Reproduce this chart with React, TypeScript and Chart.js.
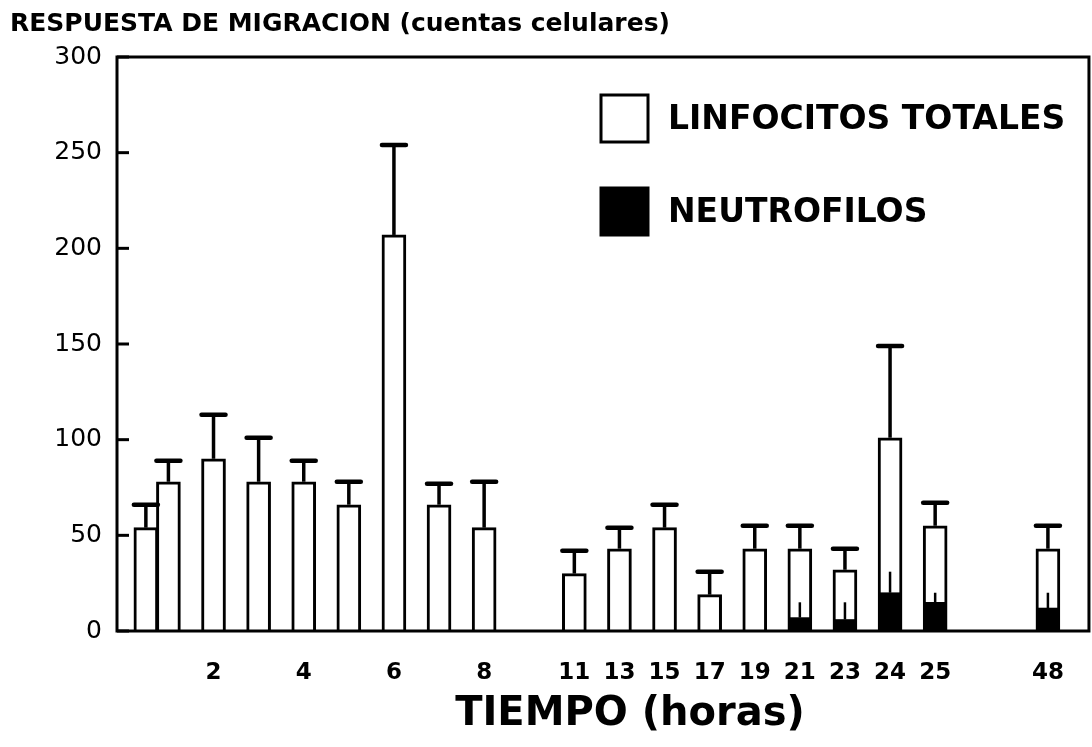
import { useEffect, useRef } from "react";
import { Chart, registerables } from "chart.js";

Chart.register(...registerables);

// Half-slot layout of the broken time axis (blank = empty slot)
const axisSlots = [
  "0.5", "1", "", "2", "", "3", "", "4", "", "5", "", "6", "", "7", "", "8",
  "", "", "", "11", "", "13", "", "15", "", "17", "", "19", "", "21", "", "23",
  "", "24", "", "25", "", "", "", "", "48",
];
const tickLabels = ["2", "4", "6", "8", "11", "13", "15", "17", "19", "21", "23", "24", "25", "48"];

const times = ["0.5", "1", "2", "3", "4", "5", "6", "7", "8", "11", "13", "15", "17", "19", "21", "23", "24", "25", "48"];
const lymphocytes = [54, 78, 90, 78, 78, 66, 207, 66, 54, 30, 43, 54, 19, 43, 43, 32, 101, 55, 43];
const lymphocytesUpper = [66, 89, 113, 101, 89, 78, 254, 77, 78, 42, 54, 66, 31, 55, 55, 43, 149, 67, 55];
const neutrophils = [0, 0, 0, 0, 0, 0, 0, 0, 0, 0, 0, 0, 0, 0, 7, 6, 20, 15, 12];
const neutrophilsUpper = [0, 0, 0, 0, 0, 0, 0, 0, 0, 0, 0, 0, 0, 0, 15, 15, 31, 20, 20];

const FONT = "'DejaVu Sans', sans-serif";

const decor = {
  id: "decor",
  afterDatasetsDraw(chart: any) {
    const { ctx, chartArea: a, scales } = chart;
    const y = scales.y;
    ctx.save();
    ctx.strokeStyle = "#000";
    // error bars
    chart.data.datasets.forEach((ds: any, i: number) => {
      const meta = chart.getDatasetMeta(i);
      meta.data.forEach((bar: any, j: number) => {
        const v = ds.data[j].y;
        if (v == null) return;
        const yTop = y.getPixelForValue(v);
        const yUp = y.getPixelForValue(ds.upper[j]);
        ctx.lineCap = "butt";
        ctx.lineWidth = ds.stemWidth;
        ctx.beginPath();
        ctx.moveTo(bar.x, yTop);
        ctx.lineTo(bar.x, yUp);
        ctx.stroke();
        if (ds.capWidth) {
          ctx.lineWidth = 4.5;
          ctx.lineCap = "round";
          ctx.beginPath();
          ctx.moveTo(bar.x - ds.capWidth / 2, yUp);
          ctx.lineTo(bar.x + ds.capWidth / 2, yUp);
          ctx.stroke();
        }
      });
    });
    // frame
    ctx.lineCap = "butt";
    ctx.lineWidth = 3;
    ctx.strokeRect(a.left, a.top, a.right - a.left, a.bottom - a.top);
    // inward y tick marks
    y.ticks.forEach((t: any) => {
      const py = y.getPixelForValue(t.value);
      ctx.beginPath();
      ctx.moveTo(a.left, py);
      ctx.lineTo(a.left + 12, py);
      ctx.stroke();
    });
    ctx.restore();
  },
  afterDraw(chart: any) {
    const { ctx, chartArea: a } = chart;
    ctx.save();
    ctx.fillStyle = "#000";
    ctx.textBaseline = "alphabetic";
    ctx.textAlign = "left";
    ctx.font = `bold 25px ${FONT}`;
    ctx.fillText("RESPUESTA DE MIGRACION (cuentas celulares)", 10, 31);
    ctx.textAlign = "center";
    ctx.font = `bold 40px ${FONT}`;
    ctx.fillText("TIEMPO (horas)", (a.left + a.right) / 2 + 27, 725);
    // legend
    const order = [0, 1];
    ctx.font = `bold 33px ${FONT}`;
    ctx.textAlign = "left";
    ctx.textBaseline = "middle";
    order.forEach((di, k) => {
      const ds = chart.data.datasets[di];
      const bx = 601;
      const by = 95 + k * 93;
      ctx.fillStyle = ds.backgroundColor;
      ctx.fillRect(bx, by, 47, 47);
      ctx.lineWidth = 3;
      ctx.strokeStyle = "#000";
      ctx.strokeRect(bx, by, 47, 47);
      ctx.fillStyle = "#000";
      ctx.fillText(ds.label, 668, by + 25);
    });
    ctx.restore();
  },
};

export default function App() {
  const ref = useRef<HTMLCanvasElement>(null);
  useEffect(() => {
    document.body.style.margin = "0";
    const xOf = (t: string) => axisSlots.indexOf(t);
    const chart = new Chart(ref.current!, {
      type: "bar",
      data: {
        datasets: [
          {
            label: "LINFOCITOS TOTALES",
            data: times.map((t, i) => ({ x: xOf(t), y: lymphocytes[i] })),
            backgroundColor: "#ffffff",
            borderColor: "#000000",
            borderWidth: 3,
            barThickness: 24,
            grouped: false,
            order: 2,
            upper: lymphocytesUpper,
            stemWidth: 3.5,
            capWidth: 24,
          } as any,
          {
            label: "NEUTROFILOS",
            data: times.map((t, i) => ({ x: xOf(t), y: neutrophils[i] > 0 ? neutrophils[i] : null })),
            backgroundColor: "#000000",
            borderWidth: 0,
            barThickness: 21,
            grouped: false,
            order: 1,
            upper: neutrophilsUpper,
            stemWidth: 2.5,
            capWidth: 0,
          } as any,
        ],
      },
      options: {
        responsive: false,
        animation: false,
        devicePixelRatio: 1,
        layout: { padding: { top: 57, right: 2, left: 0, bottom: 0 } },
        plugins: { legend: { display: false }, tooltip: { enabled: false }, title: { display: false } },
        scales: {
          x: {
            type: "linear",
            min: -1.28,
            max: 41.82,
            offset: false,
            grid: { display: false, drawTicks: false, offset: false },
            border: { display: false },
            afterBuildTicks: (scale: any) => {
              scale.ticks = tickLabels.map((l) => ({ value: axisSlots.indexOf(l) }));
            },
            afterFit: (scale: any) => {
              scale.height = 116;
            },
            ticks: {
              autoSkip: false,
              maxRotation: 0,
              minRotation: 0,
              padding: 28,
              color: "#000",
              font: { family: FONT, size: 23, weight: "bold" },
              callback: (v: any) => axisSlots[v as number] ?? "",
            },
          },
          y: {
            min: 0,
            max: 300,
            grid: { display: false, drawTicks: false },
            border: { display: false },
            afterFit: (scale: any) => {
              scale.width = 117;
            },
            ticks: {
              stepSize: 50,
              padding: 15,
              color: "#000",
              font: { family: FONT, size: 25 },
            },
          },
        },
      },
      plugins: [decor],
    });
    return () => chart.destroy();
  }, []);
  return (
    <div style={{ width: 1092, height: 747, background: "#fff" }}>
      <canvas ref={ref} width={1092} height={747} />
    </div>
  );
}
